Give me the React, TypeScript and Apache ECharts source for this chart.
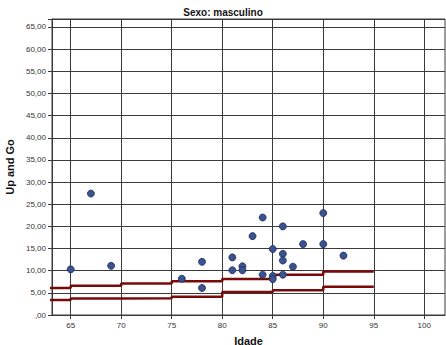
import React, { useEffect, useRef } from 'react';
import * as echarts from 'echarts';

const ages = [65, 67, 69, 76, 78, 78, 81, 81, 82, 82, 83, 84, 84, 85, 85, 85, 86, 86, 86, 86, 87, 88, 90, 90, 92];
const upAndGo = [10.3, 27.4, 11.1, 8.2, 12.0, 6.1, 13.0, 10.1, 11.0, 10.1, 17.8, 22.0, 9.1, 14.9, 8.8, 8.1, 20.0, 13.8, 12.3, 9.1, 10.9, 16.0, 23.0, 16.0, 13.4];
const stepAges = [60, 65, 70, 75, 80, 85, 90, 95];
const upperRef = [6.1, 6.6, 7.1, 7.6, 8.1, 9.1, 9.8, 9.8];
const lowerRef = [3.4, 3.7, 3.8, 4.1, 5.2, 5.6, 6.4, 6.4];
const xTickValues = [65, 70, 75, 80, 85, 90, 95, 100];

const FONT = 'Arial, "Liberation Sans", sans-serif';

export default function App() {
  const ref = useRef<HTMLDivElement>(null);
  useEffect(() => {
    if (!ref.current) return;
    const chart = echarts.init(ref.current, undefined, { renderer: 'svg' });
    const scatter = ages.map((a, i) => [a, upAndGo[i]]);
    const upper = stepAges.map((a, i) => [a, upperRef[i]]);
    const lower = stepAges.map((a, i) => [a, lowerRef[i]]);
    const gridColor = '#3a3a3a';
    chart.setOption({
      animation: false,
      backgroundColor: '#ffffff',
      title: {
        text: 'Sexo: masculino',
        left: 'center',
        top: 2,
        textStyle: { fontFamily: FONT, fontSize: 10, fontWeight: 'bold', color: '#111' },
      },
      grid: {
        left: 52, right: 1, top: 19, bottom: 30,
        containLabel: false,
        outerBoundsMode: 'none',
        show: true, borderColor: gridColor, borderWidth: 1, backgroundColor: '#fff',
      },
      xAxis: {
        type: 'value',
        min: 63.15,
        max: 102.05,
        name: 'Idade',
        nameLocation: 'middle',
        nameGap: 20,
        nameTextStyle: { fontFamily: FONT, fontSize: 11, fontWeight: 'bold', color: '#111' },
        axisLine: { show: true, lineStyle: { color: gridColor, width: 1 } },
        axisTick: { show: true, length: 4, customValues: xTickValues, lineStyle: { color: gridColor } },
        axisLabel: { customValues: xTickValues, fontFamily: FONT, fontSize: 8, color: '#333', margin: 6 },
        splitLine: { show: true, lineStyle: { color: gridColor, width: 1 } },
      },
      yAxis: {
        type: 'value',
        min: 0,
        max: 66.8,
        interval: 5,
        name: 'Up and Go',
        nameLocation: 'middle',
        nameGap: 28,
        nameTextStyle: { fontFamily: FONT, fontSize: 11, fontWeight: 'bold', color: '#111' },
        axisLine: { show: true, lineStyle: { color: gridColor, width: 1 } },
        axisTick: { show: true, length: 4, lineStyle: { color: gridColor } },
        axisLabel: {
          fontFamily: FONT,
          fontSize: 8,
          color: '#333',
          margin: 6,
          formatter: (v: number) => {
            if (Math.abs(v % 5) > 1e-6) return '';
            if (v === 0) return ',00';
            return v.toFixed(2).replace('.', ',');
          },
        },
        splitLine: { show: true, lineStyle: { color: gridColor, width: 1 } },
      },
      series: [
        {
          type: 'line',
          data: upper,
          step: 'end',
          showSymbol: false,
          symbol: 'none',
          clip: true,
          lineStyle: { color: '#7a0a0a', width: 2.5 },
          z: 3,
        },
        {
          type: 'line',
          data: lower,
          step: 'end',
          showSymbol: false,
          symbol: 'none',
          clip: true,
          lineStyle: { color: '#7a0a0a', width: 2.5 },
          z: 3,
        },
        {
          type: 'scatter',
          data: scatter,
          symbol: 'circle',
          symbolSize: 7,
          itemStyle: { color: '#3b5291', borderColor: '#1e2d5c', borderWidth: 0.8, opacity: 1 },
          z: 4,
        },
      ],
    });
    return () => chart.dispose();
  }, []);
  return <div ref={ref} style={{ position: 'fixed', left: 0, top: 0, width: 446, height: 345 }} />;
}
